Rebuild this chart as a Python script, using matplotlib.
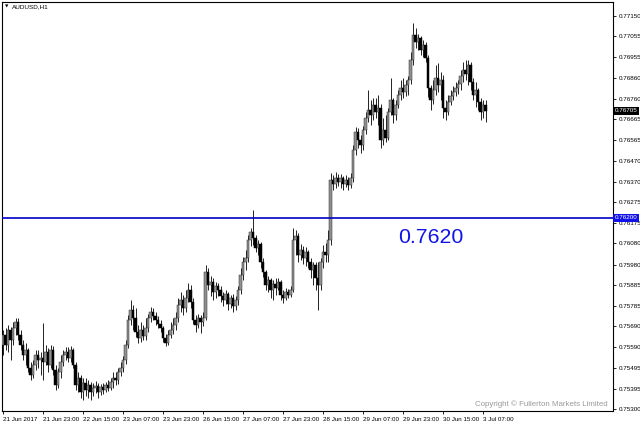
import matplotlib
matplotlib.use('Agg')
import matplotlib.pyplot as plt
import matplotlib.transforms as mtransforms

plt.rcParams['font.family'] = ['Liberation Sans', 'DejaVu Sans']

# AUDUSD H1 candles, prices in 1e-5 units
opens = [75601, 75648, 75601, 75672, 75625, 75681, 75709, 75648, 75601, 75554,
         75578, 75493, 75460, 75507, 75554, 75530, 75540, 75521, 75568, 75507,
         75578, 75483, 75413, 75474, 75521, 75554, 75568, 75540, 75578, 75507,
         75413, 75446, 75380, 75422, 75389, 75413, 75380, 75399, 75408, 75380,
         75403, 75389, 75413, 75399, 75427, 75446, 75436, 75474, 75493, 75530,
         75601, 75719, 75766, 75728, 75662, 75634, 75672, 75643, 75681, 75728,
         75757, 75738, 75719, 75700, 75681, 75634, 75611, 75648, 75672, 75695,
         75728, 75789, 75813, 75775, 75823, 75860, 75804, 75719, 75695, 75728,
         75709, 75728, 75945, 75884, 75898, 75851, 75879, 75860, 75832, 75813,
         75841, 75794, 75823, 75785, 75813, 75860, 75931, 75992, 76011, 76095,
         76133, 76105, 76058, 76077, 75992, 75945, 75884, 75907, 75860, 75888,
         75870, 75898, 75837, 75823, 75851, 75837, 75860, 76095, 76114, 76025,
         76048, 76011, 76039, 75992, 75954, 75978, 75917, 75884, 75992, 76039,
         76025, 76095, 76378, 76359, 76388, 76368, 76388, 76359, 76378, 76354,
         76388, 76519, 76604, 76566, 76543, 76613, 76670, 76707, 76684, 76731,
         76698, 76717, 76566, 76613, 76575, 76698, 76755, 76684, 76731, 76778,
         76811, 76792, 76825, 76849, 76943, 77061, 77028, 77046, 76990, 77013,
         76952, 76811, 76755, 76802, 76858, 76825, 76849, 76717, 76698, 76745,
         76773, 76792, 76811, 76830, 76867, 76896, 76877, 76919, 76839, 76778,
         76802, 76745, 76698, 76731]
highs = [75672, 75681, 75695, 75686, 75709, 75728, 75728, 75672, 75625, 75611,
         75587, 75521, 75530, 75578, 75578, 75568, 75705, 75601, 75587, 75601,
         75596, 75507, 75493, 75554, 75578, 75592, 75592, 75596, 75587, 75521,
         75474, 75460, 75446, 75446, 75436, 75427, 75422, 75432, 75422, 75418,
         75422, 75427, 75436, 75446, 75474, 75474, 75493, 75521, 75549, 75625,
         75742, 75813, 75789, 75775, 75695, 75709, 75695, 75728, 75747, 75780,
         75775, 75757, 75738, 75719, 75690, 75653, 75672, 75709, 75728, 75757,
         75823, 75851, 75837, 75860, 75893, 75884, 75823, 75742, 75747, 75742,
         75757, 75978, 75964, 75926, 75917, 75898, 75893, 75879, 75851, 75860,
         75851, 75837, 75841, 75832, 75879, 75964, 76015, 76048, 76119, 76152,
         76237, 76119, 76095, 76086, 76011, 75954, 75926, 75917, 75907, 75917,
         75917, 75907, 75860, 75870, 75865, 75879, 76152, 76143, 76128, 76077,
         76067, 76062, 76048, 76011, 75992, 75992, 75992, 76011, 76072, 76081,
         76143, 76411, 76402, 76416, 76406, 76406, 76397, 76402, 76392, 76411,
         76543, 76627, 76622, 76590, 76632, 76698, 76802, 76755, 76764, 76764,
         76778, 76736, 76670, 76684, 76717, 76858, 76764, 76755, 76802, 76849,
         76858, 76849, 76867, 76981, 77117, 77093, 77065, 77056, 77037, 77028,
         76966, 76825, 76849, 76919, 76929, 76886, 76872, 76755, 76778, 76802,
         76820, 76839, 76849, 76896, 76933, 76943, 76943, 76933, 76858, 76839,
         76811, 76764, 76755, 76755]
lows = [75554, 75578, 75568, 75530, 75601, 75648, 75625, 75578, 75530, 75507,
        75474, 75436, 75446, 75483, 75493, 75460, 75436, 75507, 75474, 75493,
        75460, 75389, 75399, 75446, 75502, 75530, 75521, 75521, 75493, 75389,
        75380, 75352, 75342, 75361, 75352, 75342, 75361, 75375, 75352, 75366,
        75370, 75380, 75385, 75389, 75399, 75413, 75418, 75455, 75474, 75512,
        75587, 75695, 75672, 75639, 75611, 75615, 75625, 75625, 75662, 75709,
        75719, 75695, 75681, 75662, 75615, 75596, 75601, 75634, 75653, 75672,
        75709, 75757, 75742, 75757, 75804, 75775, 75700, 75662, 75681, 75658,
        75690, 75719, 75860, 75832, 75813, 75823, 75832, 75804, 75785, 75794,
        75766, 75775, 75757, 75766, 75789, 75841, 75907, 75954, 75992, 76067,
        76072, 76039, 76025, 75964, 75921, 75860, 75851, 75823, 75813, 75837,
        75860, 75813, 75799, 75813, 75823, 75827, 75851, 76025, 75992, 76001,
        75982, 75973, 75964, 75917, 75884, 75860, 75766, 75860, 75964, 75992,
        75992, 76072, 76331, 76340, 76350, 76340, 76331, 76345, 76331, 76340,
        76368, 76495, 76528, 76505, 76519, 76594, 76651, 76637, 76660, 76670,
        76637, 76528, 76543, 76557, 76566, 76684, 76646, 76660, 76717, 76755,
        76764, 76773, 76778, 76830, 76919, 76999, 76990, 76966, 76957, 76933,
        76769, 76707, 76736, 76778, 76792, 76755, 76670, 76660, 76684, 76731,
        76755, 76773, 76783, 76802, 76839, 76849, 76825, 76802, 76755, 76722,
        76707, 76660, 76670, 76651]
closes = [75648, 75601, 75672, 75625, 75681, 75709, 75648, 75601, 75554, 75578,
          75493, 75460, 75507, 75554, 75530, 75540, 75521, 75568, 75507, 75578,
          75483, 75413, 75474, 75521, 75554, 75568, 75540, 75578, 75507, 75413,
          75446, 75380, 75422, 75389, 75413, 75380, 75399, 75408, 75380, 75403,
          75389, 75413, 75399, 75427, 75446, 75436, 75474, 75493, 75530, 75601,
          75719, 75766, 75728, 75662, 75634, 75672, 75643, 75681, 75728, 75757,
          75738, 75719, 75700, 75681, 75634, 75611, 75648, 75672, 75695, 75728,
          75789, 75813, 75775, 75823, 75860, 75804, 75719, 75695, 75728, 75709,
          75728, 75945, 75884, 75898, 75851, 75879, 75860, 75832, 75813, 75841,
          75794, 75823, 75785, 75813, 75860, 75931, 75992, 76011, 76095, 76133,
          76105, 76058, 76077, 75992, 75945, 75884, 75907, 75860, 75888, 75870,
          75898, 75837, 75823, 75851, 75837, 75860, 76095, 76114, 76025, 76048,
          76011, 76039, 75992, 75954, 75978, 75917, 75884, 75992, 76039, 76025,
          76095, 76378, 76359, 76388, 76368, 76388, 76359, 76378, 76354, 76388,
          76519, 76604, 76566, 76543, 76613, 76670, 76707, 76684, 76731, 76698,
          76717, 76566, 76613, 76575, 76698, 76755, 76684, 76731, 76778, 76811,
          76792, 76825, 76849, 76943, 77061, 77028, 77046, 76990, 77013, 76952,
          76811, 76755, 76802, 76858, 76825, 76849, 76717, 76698, 76745, 76773,
          76792, 76811, 76830, 76867, 76896, 76877, 76919, 76839, 76778, 76802,
          76745, 76698, 76731, 76705]

x_tick_bars = [0, 16, 32, 48, 64, 80, 96, 112, 128, 144, 160, 176, 192]
x_tick_labels = ['21 Jun 2017', '21 Jun 23:00', '22 Jun 15:00', '23 Jun 07:00',
                 '23 Jun 23:00', '26 Jun 15:00', '27 Jun 07:00', '27 Jun 23:00',
                 '28 Jun 15:00', '29 Jun 07:00', '29 Jun 23:00', '30 Jun 15:00',
                 '3 Jul 07:00']
y_tick_labels = ['0.77150', '0.77055', '0.76955', '0.76860', '0.76760', '0.76665',
                 '0.76565', '0.76470', '0.76370', '0.76275', '0.76175', '0.76080',
                 '0.75980', '0.75885', '0.75785', '0.75690', '0.75590', '0.75495',
                 '0.75395', '0.75300']
level = 0.7620

o = [v / 100000 for v in opens]
h = [v / 100000 for v in highs]
l = [v / 100000 for v in lows]
c = [v / 100000 for v in closes]
xs = list(range(len(c)))

fig = plt.figure(figsize=(6.4, 4.26), dpi=100)
ax = fig.add_axes([2 / 640, 15 / 426, 611 / 640, 409 / 426])

ax.vlines(xs, l, h, color='#222222', linewidth=0.7, zorder=2)
for i in xs:
    bottom = min(o[i], c[i])
    height = max(abs(c[i] - o[i]), 0.000008)
    if c[i] >= o[i]:
        ax.bar(i, height, bottom=bottom, width=0.85, facecolor='#909090',
               edgecolor='#303030', linewidth=0.35, zorder=3)
    else:
        ax.bar(i, height, bottom=bottom, width=0.85, facecolor='black',
               edgecolor='black', linewidth=0.35, zorder=3)

ax.axhline(level, color='#0000c8', linewidth=1.2, zorder=4)
ax.annotate('%.4f' % level, xy=(158, level), xytext=(0, -7),
            textcoords='offset points', ha='left', va='top',
            fontsize=15.3, color='#1414e6')

ax.set_xlim(-0.4, 244)
ax.set_ylim(0.75291, 0.77216)

ax.set_xticks(x_tick_bars)
ax.set_xticklabels(x_tick_labels, ha='left', fontsize=4.5)
ax.set_yticks([float(t) for t in y_tick_labels])
ax.set_yticklabels(y_tick_labels, fontsize=4.5)
ax.yaxis.tick_right()
ax.tick_params(axis='y', direction='out', length=2.5, width=0.6, pad=1.5)
ax.tick_params(axis='x', direction='out', length=2.5, width=0.6, pad=1.5)
for s in ax.spines.values():
    s.set_linewidth(0.8)

trans = mtransforms.blended_transform_factory(ax.transAxes, ax.transData)
ax.text(1.003, c[-1], '%.5f' % c[-1], transform=trans, fontsize=4.5,
        color='white', ha='left', va='center', zorder=6, clip_on=False,
        bbox=dict(boxstyle='square,pad=0.25', facecolor='black', edgecolor='none'))
ax.text(1.003, level, '%.5f' % level, transform=trans, fontsize=4.5,
        color='white', ha='left', va='center', zorder=6, clip_on=False,
        bbox=dict(boxstyle='square,pad=0.25', facecolor='#1010e8', edgecolor='none'))

ax.text(0.005, 0.993, '\u25bc', transform=ax.transAxes, fontsize=3.2,
        ha='left', va='top', family=['DejaVu Sans'])
ax.text(0.017, 0.994, 'AUDUSD,H1', transform=ax.transAxes, fontsize=4.6,
        ha='left', va='top')
ax.text(0.992, 0.017, 'Copyright \u00a9 Fullerton Markets Limited',
        transform=ax.transAxes, fontsize=5.7, color='#9a9a9a',
        ha='right', va='center')

fig.savefig('out.png', dpi=100)
